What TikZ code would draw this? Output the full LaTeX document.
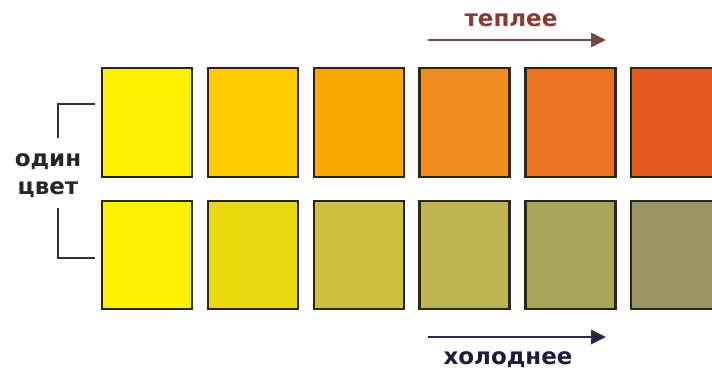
\documentclass[tikz,border=0pt]{standalone}
\usepackage{fontspec}
\setmainfont{DejaVu Sans}
\usetikzlibrary{arrows.meta}
\definecolor{tA}{HTML}{FFF200}
\definecolor{tB}{HTML}{FDCB00}
\definecolor{tC}{HTML}{F5A800}
\definecolor{tD}{HTML}{EF8C22}
\definecolor{tE}{HTML}{EB7424}
\definecolor{tF}{HTML}{E4561F}
\definecolor{bA}{HTML}{FFF200}
\definecolor{bB}{HTML}{E5DB10}
\definecolor{bC}{HTML}{CEC040}
\definecolor{bD}{HTML}{BDB451}
\definecolor{bE}{HTML}{ABA55C}
\definecolor{bF}{HTML}{999465}
\definecolor{edge}{HTML}{2A2618}
\definecolor{warmtxt}{HTML}{8A3A34}
\definecolor{warmline}{HTML}{6E4A48}
\definecolor{coldtxt}{HTML}{1E1E38}
\definecolor{coldline}{HTML}{2A2A48}
\begin{document}
\begin{tikzpicture}[x=1pt,y=-1pt,
  swatch/.style={draw=edge,line width=2.4pt,minimum width=90pt,minimum height=109pt,inner sep=0pt,anchor=north west},
  lbl/.style={font=\bfseries\fontsize{23}{26}\selectfont,inner sep=0pt},
  brk/.style={draw=black!80,line width=2pt},
  tip/.style={-{Triangle[length=15pt,width=14pt,fill=#1]}}]
\useasboundingbox[fill=white] (0,0) rectangle (712,375);
\foreach \c [count=\i from 0] in {tA,tB,tC,tD,tE,tF}{
  \node[swatch,fill=\c] (t\i) at (101+105.8*\i,67) {};
}
\foreach \c [count=\i from 0] in {bA,bB,bC,bD,bE,bF}{
  \node[swatch,fill=\c,minimum height=108pt] (b\i) at (101+105.8*\i,200) {};
}
% bracket
\coordinate (k1) at (95,104);
\coordinate (k2) at (58,104);
\coordinate (k3) at (58,138);
\coordinate (k4) at (58,208);
\coordinate (k5) at (58,258);
\coordinate (k6) at (95,258);
\draw[brk] (k1) -- (k2) -- (k3);
\draw[brk] (k4) -- (k5) -- (k6);
\node[lbl,text=black!85] (one) at (48,162) {один};
\node[lbl,text=black!85] (col) at (48,190) {цвет};
% warmer
\coordinate (wa) at (428,40);
\coordinate (wb) at (606,40);
\draw[warmline,line width=2.8pt,tip=warmtxt] (wa) -- (wb);
\node[lbl,text=warmtxt] (warm) at (511,20) {теплее};
% colder
\coordinate (ca) at (428,337);
\coordinate (cb) at (606,337);
\draw[coldline,line width=2.8pt,tip=coldtxt] (ca) -- (cb);
\node[lbl,text=coldtxt] (cold) at (508,360) {холоднее};
\end{tikzpicture}
\end{document}
